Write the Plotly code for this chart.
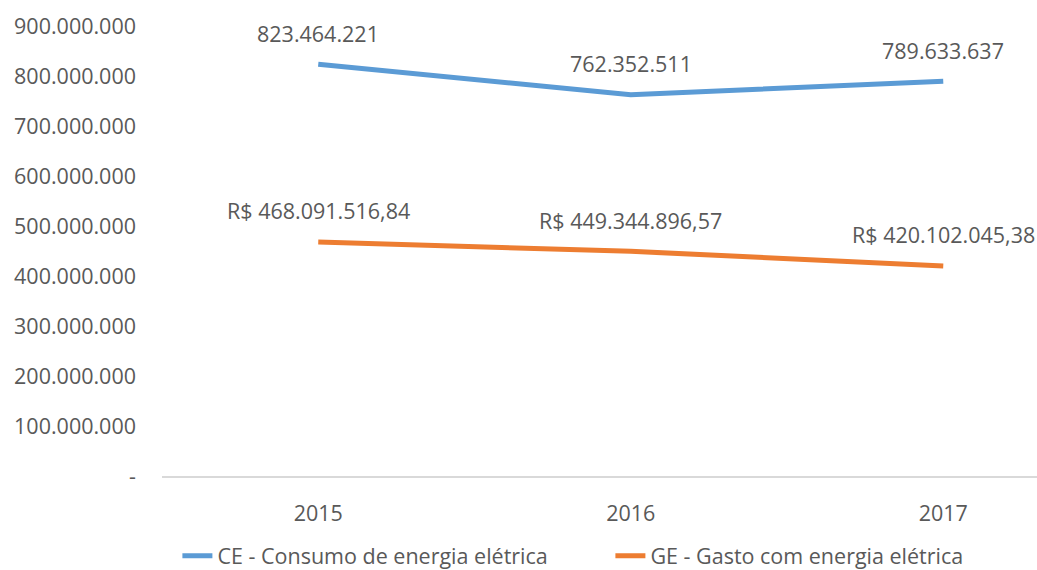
import plotly.graph_objects as go

years = ["2015", "2016", "2017"]
ce_values = [823464221, 762352511, 789633637]
ge_values = [468091516.84, 449344896.57, 420102045.38]
ce_labels = ["823.464.221", "762.352.511", "789.633.637"]
ge_labels = ["R$ 468.091.516,84", "R$ 449.344.896,57", "R$ 420.102.045,38"]
y_tickvals = [0, 100000000, 200000000, 300000000, 400000000, 500000000,
              600000000, 700000000, 800000000, 900000000]
y_ticktext = ["-", "100.000.000", "200.000.000", "300.000.000", "400.000.000",
              "500.000.000", "600.000.000", "700.000.000", "800.000.000", "900.000.000"]

FONT = "Open Sans"
GRAY = "#595959"
FS = 21.5

fig = go.Figure()
fig.add_trace(go.Scatter(x=years, y=ce_values, mode="lines",
                         name="CE - Consumo de energia elétrica",
                         line=dict(color="#5B9BD5", width=5)))
fig.add_trace(go.Scatter(x=years, y=ge_values, mode="lines",
                         name="GE - Gasto com energia elétrica",
                         line=dict(color="#ED7D31", width=5)))

annotations = []
for i, (v, t) in enumerate(zip(ce_values, ce_labels)):
    annotations.append(dict(x=i, y=v, xref="x", yref="y", text=t, showarrow=False,
                            yshift=31, font=dict(family=FONT, size=FS, color=GRAY)))
for i, (v, t) in enumerate(zip(ge_values, ge_labels)):
    annotations.append(dict(x=i, y=v, xref="x", yref="y", text=t, showarrow=False,
                            yshift=31, font=dict(family=FONT, size=FS, color=GRAY)))

fig.update_layout(
    width=1037, height=570,
    margin=dict(l=162, r=0, t=26, b=94, autoexpand=False),
    paper_bgcolor="white", plot_bgcolor="white",
    font=dict(family=FONT, size=FS, color=GRAY),
    showlegend=True,
    legend=dict(orientation="h", x=0.0176, xanchor="left", y=-0.177, yanchor="middle",
                font=dict(family=FONT, size=FS, color=GRAY),
                entrywidth=388, entrywidthmode="pixels",
                traceorder="normal"),
    annotations=annotations,
    xaxis=dict(type="category", range=[-0.5, 2.30], showgrid=False, zeroline=False,
               showline=True, linecolor="#D9D9D9", linewidth=2,
               ticks="", ticklabelstandoff=17,
               tickfont=dict(family=FONT, size=FS, color=GRAY)),
    yaxis=dict(range=[0, 900000000], tickvals=y_tickvals, ticktext=y_ticktext,
               showgrid=False, zeroline=False, showline=False, ticks="",
               ticklabelstandoff=25,
               tickfont=dict(family=FONT, size=FS, color=GRAY)),
)

fig.write_html("out.html", config={"displayModeBar": False},
               post_script="document.body.style.margin='0';")
